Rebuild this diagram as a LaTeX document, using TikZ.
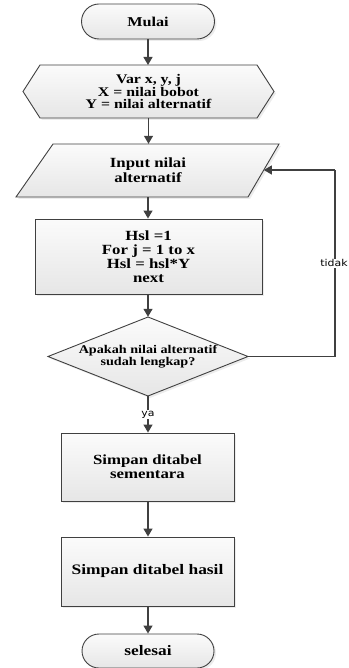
\documentclass[tikz,border=0pt]{standalone}
\usepackage{fontspec}
\setmainfont[FakeStretch=1.2]{Liberation Serif}
\newfontfamily\labelfont[FakeStretch=1.15]{DejaVu Sans}
\usetikzlibrary{shapes.geometric,shapes.misc,shadows,arrows.meta}
\definecolor{linegray}{HTML}{404040}
\definecolor{boxtop}{HTML}{FBFBFB}
\definecolor{boxbot}{HTML}{E6E6E6}
\tikzset{
  shade box/.style={draw=linegray, line width=0.9pt, top color=boxtop, bottom color=boxbot,
    drop shadow={shadow xshift=2pt, shadow yshift=-2pt, fill=black!15}},
  procbox/.style={shade box, rectangle, align=center, inner sep=0pt, font=\bfseries},
  termbox/.style={shade box, rounded rectangle, align=center, inner sep=0pt, font=\bfseries},
  textbox/.style={rectangle, align=center, inner sep=0pt, font=\bfseries},
  flow/.style={draw=linegray, line width=1.2pt, -{Triangle[width=9pt,length=8pt]}},
  flowline/.style={draw=linegray, line width=1.2pt},
  lbl/.style={fill=white, inner sep=1pt, font=\labelfont\fontsize{9.5}{10}\selectfont, text=black}
}
\begin{document}
\begin{tikzpicture}[x=1pt,y=-1pt]
\useasboundingbox (0,0) rectangle (348,668);
% start
\node[termbox, minimum width=133pt, minimum height=35pt, font=\bfseries\fontsize{13.5}{14}\selectfont] (start) at (148,21.5) {Mulai};
% hexagon
\path[shade box] (23,91.5) -- (40,65) -- (257,65) -- (274,91.5) -- (257,118) -- (40,118) -- cycle;
\node[textbox, minimum width=251pt, minimum height=53pt, font=\bfseries\fontsize{13.2}{11.8}\selectfont] (prep) at (148.5,91.5) {Var x, y, j\\X = nilai bobot\\Y = nilai alternatif};
% parallelogram
\path[shade box] (53,144) -- (279,144) -- (248,197) -- (16,197) -- cycle;
\node[textbox, minimum width=263pt, minimum height=53pt, font=\bfseries\fontsize{14}{15}\selectfont] (input) at (148,170.5) {Input nilai\\alternatif};
\coordinate (inright) at (263.8,170);
% process
\node[procbox, minimum width=227pt, minimum height=75pt, font=\bfseries\fontsize{14}{14}\selectfont] (proc) at (148.5,256.5) {Hsl =1\\For j = 1 to x\\Hsl = hsl*Y\\next};
% decision
\path[shade box] (48,356.5) -- (148,317) -- (248,356.5) -- (148,396) -- cycle;
\node[textbox, minimum width=200pt, minimum height=79pt, font=\bfseries\fontsize{11.8}{12}\selectfont] (dec) at (148,356.5) {Apakah nilai alternatif\\sudah lengkap?};
% save temp
\node[procbox, minimum width=173pt, minimum height=68pt, font=\bfseries\fontsize{14}{14}\selectfont] (save1) at (147.5,467) {Simpan ditabel\\sementara};
% save result
\node[procbox, minimum width=173pt, minimum height=69pt, font=\bfseries\fontsize{14.5}{14}\selectfont] (save2) at (147.5,571.5) {Simpan ditabel hasil};
% end
\node[termbox, minimum width=132pt, minimum height=34pt, font=\bfseries\fontsize{14.5}{15}\selectfont] (stop) at (148,651) {selesai};
% connectors
\draw[flow] (start.south) -- (148,65);
\draw[flow] (prep.south) -- (input.north -| prep.south);
\draw[flow] (input.south) -- (proc.north -| input.south);
\draw[flow] (proc.south -| dec.north) -- (dec.north);
\draw[flow] (dec.south) -- node[lbl, pos=0.5] (ya) {ya} (save1.north -| dec.south);
\draw[flow] (save1.south -| dec.south) -- (save2.north -| dec.south);
\draw[flow] (save2.south -| dec.south) -- (stop.north);
\coordinate (loopa) at (335,356.5);
\coordinate (loopb) at (335,170);
\draw[flowline] (dec.east) -- (loopa) -- node[lbl, pos=0.5, xshift=-1pt] (tidak) {tidak} (loopb);
\draw[flow] (loopb) -- (inright);
\end{tikzpicture}
\end{document}
